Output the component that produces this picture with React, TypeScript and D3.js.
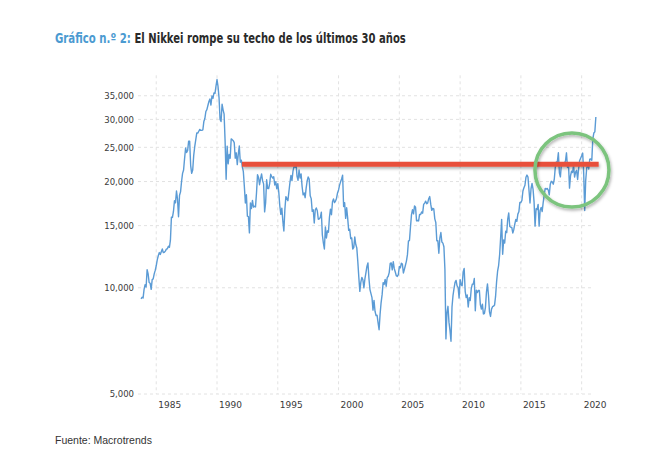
import { useLayoutEffect, useRef } from 'react';
import * as d3 from 'd3';

// Nikkei 225, monthly values (first value: Sep 1983)
const START_YEAR = 1983;
const START_MONTH = 8;

const nikkei80s = [
  9300, 9400, 9350, 9893,
  10200, 10050, 11250, 10950, 10350, 10300, 9900, 10550, 10600, 10950, 11200, 11543,
  11990, 12320, 12580, 12430, 12650, 12880, 12580, 12610, 12700, 12870, 12900, 13113,
  13020, 13640, 15860, 15820, 16450, 17650, 17400, 18800, 17850, 15900, 18280, 18701,
  20000, 21100, 21570, 23270, 24900, 24180, 24490, 26030, 26010, 22200, 21100, 21564,
  23720, 25100, 26260, 27440, 27420, 27770, 28090, 27930, 27920, 28000, 29580, 30159,
  31580, 31985, 32840, 33710, 34270, 32950, 34950, 34430, 35640, 35550, 37270, 38916,
];

const nikkei90s = [
  37190, 34590, 29980, 29580, 33130, 31940, 31040, 25980, 20300, 25194, 22450, 23849,
  23290, 26410, 26290, 26110, 25790, 23290, 24120, 22330, 23920, 25220, 22690, 22984,
  22020, 21340, 19350, 17390, 18350, 15950, 15910, 14309, 17400, 16770, 17680, 16925,
  17020, 16950, 18590, 20920, 20550, 19590, 20380, 21030, 20110, 19700, 16410, 17417,
  20230, 19110, 19110, 19730, 20970, 20640, 20450, 20630, 19560, 19990, 19080, 19723,
  18650, 17050, 16140, 16810, 15440, 14485, 16680, 18120, 17910, 17650, 18740, 19868,
  20810, 20120, 21410, 22040, 21950, 22530, 20690, 20170, 21560, 20470, 21020, 19361,
  18330, 18560, 18000, 19150, 20070, 20600, 20330, 18230, 17890, 16460, 16630, 15259,
  16630, 16830, 16530, 15640, 15670, 15830, 16380, 14110, 13410, 12880, 14880, 13842,
  14500, 14370, 15840, 16700, 16110, 17530, 17860, 17440, 17600, 17940, 18560, 18934,
];

const nikkei00s = [
  19540, 19960, 20337, 20833, 17000, 17410, 15730, 16860, 15750, 14540, 14650, 13786,
  13840, 12880, 12990, 13930, 13260, 12970, 11860, 10710, 9770, 10370, 10700, 10543,
  9990, 10590, 11020, 11490, 11760, 10620, 9880, 9620, 9380, 8640, 9210, 8579,
  8340, 8360, 7970, 7607, 8420, 9080, 9560, 10340, 10220, 10560, 10100, 10677,
  10780, 11040, 11720, 11760, 11240, 11860, 11330, 11080, 10820, 10770, 10900, 11489,
  11390, 11740, 11670, 11010, 11280, 11580, 11900, 12410, 13570, 13610, 14870, 16111,
  16650, 16200, 17060, 16910, 15470, 15510, 15460, 16140, 16130, 16400, 16270, 17226,
  17380, 17600, 17290, 17400, 17880, 18138, 17250, 16570, 16790, 16740, 15680, 15308,
  13590, 13600, 12530, 13850, 14340, 13480, 13380, 13070, 11260, 7163, 8510, 8860,
  7990, 7568, 7055, 8830, 9520, 9960, 10360, 10490, 10130, 10030, 9350, 10546,
];

const nikkei10s = [
  10200, 10130, 11090, 11340, 9770, 9380, 9540, 8820, 9370, 9200, 9940, 10229,
  10240, 10620, 8605, 9850, 9690, 9820, 9830, 8950, 8700, 8990, 8430, 8455,
  8800, 9720, 10255, 9520, 8542, 8295, 8700, 8840, 8870, 8930, 9450, 10395,
  11140, 11560, 12400, 13860, 15627, 12445, 13670, 13390, 14460, 14330, 15660, 16291,
  14910, 14840, 14830, 14300, 14630, 15160, 15620, 15420, 16170, 16414, 17460, 17451,
  17670, 18800, 19210, 19520, 20560, 20868, 20590, 18890, 17390, 19080, 19750, 19034,
  17520, 14953, 16760, 16670, 17230, 14952, 16570, 16890, 16450, 17430, 18310, 19114,
  19040, 19120, 18910, 18335, 19650, 20030, 19930, 19650, 20360, 22010, 22720, 22765,
  24124, 21160, 20617, 22470, 22200, 22300, 22550, 22870, 24120, 21920, 22350, 19155,
  20770, 21390, 21210, 22260, 20600, 21280, 21520, 20261, 21760, 22930, 23290, 23657,
  24083, 21140, 16553, 20190, 21880, 22290, 21710, 23140, 23185, 22980, 26430, 27444,
  27660, 30468,
];

const yTicks = [5000, 10000, 15000, 20000, 25000, 30000, 35000];
const xTicks = [1985, 1990, 1995, 2000, 2005, 2010, 2015, 2020];

// resistance line and the highlight circle
const ceiling = { from: 1992.05, to: 2021.4, value: 22400 };
const highlight = { year: 2019.2, value: 21560 };

const W = 650;
const H = 452;

// squeeze a text horizontally so it spans [left, right]
function fitText(el: SVGTextElement | null, left: number, right: number, baseline: number) {
  if (!el) return;
  const natural = el.getComputedTextLength();
  const k = natural > 0 ? (right - left) / natural : 1;
  el.setAttribute('transform', `translate(${left},${baseline}) scale(${k},1)`);
}

export default function App() {
  const blueRef = useRef<SVGTextElement>(null);
  const darkRef = useRef<SVGTextElement>(null);

  useLayoutEffect(() => {
    fitText(blueRef.current, 55, 131, 42.5);
    fitText(darkRef.current, 134.5, 406, 42.5);
  }, []);

  const values = [...nikkei80s, ...nikkei90s, ...nikkei00s, ...nikkei10s];
  const data = values.map((v, i) => ({
    t: START_YEAR + (START_MONTH + i + 1) / 12,
    v,
  }));

  const x = d3.scaleLinear().domain([1983.5, 2020.85]).range([138, 592]);
  const y = d3.scaleLog().domain([5000, 40000]).range([394, 75.3]);

  const line = d3
    .line<{ t: number; v: number }>()
    .x((d) => x(d.t))
    .y((d) => y(d.v));

  const fmt = d3.format(',');
  const [x0, x1] = x.range();
  const [yb, yt] = y.range();

  const titleFont = {
    fontFamily: '"Liberation Sans Narrow", "DejaVu Sans Condensed", sans-serif',
    fontWeight: 'bold',
    fontSize: 14,
  };

  return (
    <svg
      width={W}
      height={H}
      style={{ position: 'absolute', left: 0, top: 0, background: '#fff' }}
    >
      <defs>
        <filter id="shadow" filterUnits="userSpaceOnUse" x={0} y={0} width={W} height={H}>
          <feDropShadow dx="1" dy="2" stdDeviation="1.4" floodColor="#000" floodOpacity="0.3" />
        </filter>
      </defs>

      <text ref={blueRef} x={0} y={0} fill="#4b9ad1" style={titleFont}>
        Gráfico n.º 2:
      </text>
      <text ref={darkRef} x={0} y={0} fill="#2a2a2a" style={titleFont}>
        El Nikkei rompe su techo de los últimos 30 años
      </text>

      {/* grid */}
      <g stroke="#e2e2e2" strokeDasharray="3,3" strokeWidth={1}>
        {yTicks.map((t) => (
          <line key={t} x1={x0} x2={x1} y1={y(t)} y2={y(t)} />
        ))}
        {xTicks.map((t) => (
          <line key={t} x1={x(t)} x2={x(t)} y1={yt} y2={yb} />
        ))}
      </g>

      {/* axis labels */}
      <g style={{ fontFamily: '"DejaVu Sans", sans-serif', fontSize: 8.5 }} fill="#3a3a3a">
        {yTicks.map((t) => (
          <text key={t} x={134} y={y(t) + 3.3} textAnchor="end">
            {fmt(t)}
          </text>
        ))}
      </g>
      <g style={{ fontFamily: '"DejaVu Sans", sans-serif', fontSize: 9 }} fill="#3a3a3a">
        {xTicks.map((t) => (
          <text key={t} x={x(t) + 2} y={407.5}>
            {t}
          </text>
        ))}
      </g>

      <path d={line(data) ?? ''} fill="none" stroke="#5b9bd5" strokeWidth={1.4} strokeLinejoin="round" />

      <line
        x1={x(ceiling.from)}
        x2={x(ceiling.to)}
        y1={y(ceiling.value)}
        y2={y(ceiling.value)}
        stroke="#e8503a"
        strokeWidth={5}
        filter="url(#shadow)"
      />

      <circle
        cx={x(highlight.year)}
        cy={y(highlight.value)}
        r={37}
        fill="none"
        stroke="#7cc47e"
        strokeWidth={3.5}
        filter="url(#shadow)"
      />

      <text
        x={55}
        y={444}
        fill="#333"
        style={{ fontFamily: '"Liberation Sans", Arial, sans-serif', fontSize: 10.5 }}
      >
        Fuente: Macrotrends
      </text>
    </svg>
  );
}
